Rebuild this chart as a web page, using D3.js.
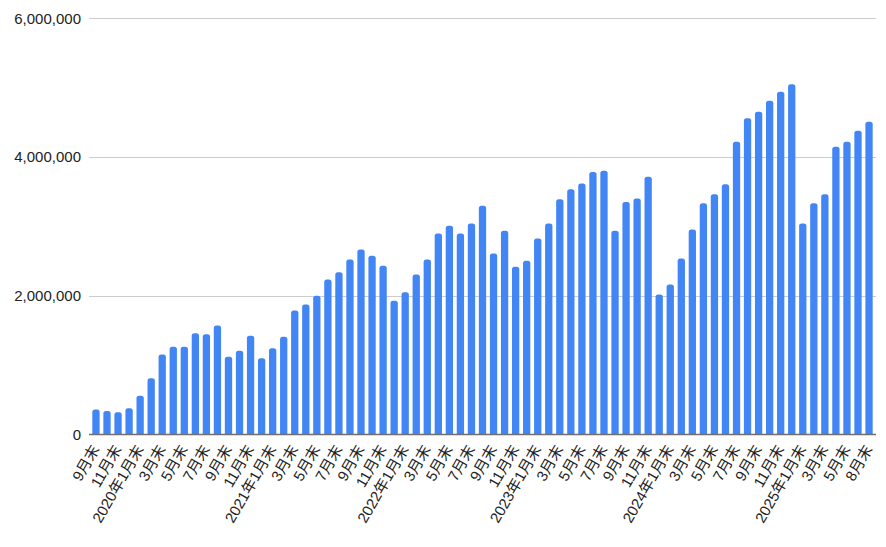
<!DOCTYPE html>
<html>
<head>
<meta charset="utf-8">
<script src="https://cdn.jsdelivr.net/npm/d3@7"></script>
<style>
  html, body { margin: 0; padding: 0; background: #fff; }
  svg { display: block; font-family: Arial, "Liberation Sans", "Noto Sans CJK JP", sans-serif; }
</style>
</head>
<body>
<svg id="chart" width="886" height="547"></svg>
<script>
const categories = [
  "9月末","10月末","11月末","12月末",
  "2020年1月末","2月末","3月末","4月末","5月末","6月末","7月末","8月末","9月末","10月末","11月末","12月末",
  "2021年1月末","2月末","3月末","4月末","5月末","6月末","7月末","8月末","9月末","10月末","11月末","12月末",
  "2022年1月末","2月末","3月末","4月末","5月末","6月末","7月末","8月末","9月末","10月末","11月末","12月末",
  "2023年1月末","2月末","3月末","4月末","5月末","6月末","7月末","8月末","9月末","10月末","11月末","12月末",
  "2024年1月末","2月末","3月末","4月末","5月末","6月末","7月末","8月末","9月末","10月末","11月末","12月末",
  "2025年1月末","2月末","3月末","4月末","5月末","7月末","8月末"
];
const values = [
  360000, 340000, 320000, 380000,
  557000, 810000, 1154000, 1264000, 1264000, 1461000, 1447000, 1572000, 1120000, 1206000, 1422000, 1100000,
  1245000, 1408000, 1788000, 1875000, 2000000, 2235000, 2340000, 2524000, 2668000, 2576000, 2432000, 1927000,
  2052000, 2308000, 2524000, 2899000, 3009000, 2899000, 3043000, 3297000, 2610000, 2937000, 2418000, 2504000,
  2827000, 3043000, 3390000, 3534000, 3620000, 3783000, 3802000, 2937000, 3351000, 3404000, 3716000, 2019000,
  2163000, 2538000, 2957000, 3332000, 3462000, 3606000, 4220000, 4558000, 4654000, 4812000, 4942000, 5048000,
  3043000, 3332000, 3462000, 4149000, 4220000, 4379000, 4509000
];
const yTicks = [0, 2000000, 4000000, 6000000];

const svg = d3.select("#chart");
const plotLeft = 89, plotRight = 876, plotTop = 18.3, plotBottom = 434.5;

const x = d3.scaleBand()
  .domain(d3.range(categories.length))
  .range([plotLeft, plotRight])
  .paddingInner(0.34)
  .paddingOuter(0.3);

const y = d3.scaleLinear().domain([0, 6000000]).range([plotBottom, plotTop]);

// gridlines
svg.append("g").selectAll("line")
  .data(yTicks.filter(d => d > 0))
  .join("line")
  .attr("x1", plotLeft).attr("x2", plotRight)
  .attr("y1", d => Math.round(y(d)) + 0.5).attr("y2", d => Math.round(y(d)) + 0.5)
  .attr("stroke", "#cccccc").attr("stroke-width", 1);

// y labels
svg.append("g").selectAll("text")
  .data(yTicks)
  .join("text")
  .attr("x", 81).attr("y", d => y(d))
  .attr("dy", "0.36em")
  .attr("text-anchor", "end")
  .attr("font-size", 15)
  .attr("fill", "#222")
  .text(d => d3.format(",")(d));

// bars with rounded tops
const r = 2.5;
svg.append("g").selectAll("path")
  .data(values)
  .join("path")
  .attr("fill", "#4285f4")
  .attr("d", (d, i) => {
    const x0 = x(i), w = x.bandwidth(), y0 = y(d), y1 = y(0);
    const rr = Math.min(r, w / 2, (y1 - y0));
    return `M${x0},${y1}V${y0 + rr}Q${x0},${y0} ${x0 + rr},${y0}H${x0 + w - rr}Q${x0 + w},${y0} ${x0 + w},${y0 + rr}V${y1}Z`;
  });

// baseline
svg.append("line")
  .attr("x1", plotLeft).attr("x2", plotRight)
  .attr("y1", plotBottom).attr("y2", plotBottom)
  .attr("stroke", "#6f6f6f").attr("stroke-width", 1.5);

// x labels (every other)
svg.append("g").selectAll("text")
  .data(categories.map((c, i) => ({c, i})).filter(d => d.i % 2 === 0))
  .join("text")
  .attr("transform", d => `translate(${x(d.i) + x.bandwidth() / 2 + 4},449) rotate(-60)`)
  .attr("text-anchor", "end")
  .attr("font-size", 15)
  .attr("fill", "#222")
  .text(d => d.c);
</script>
</body>
</html>
